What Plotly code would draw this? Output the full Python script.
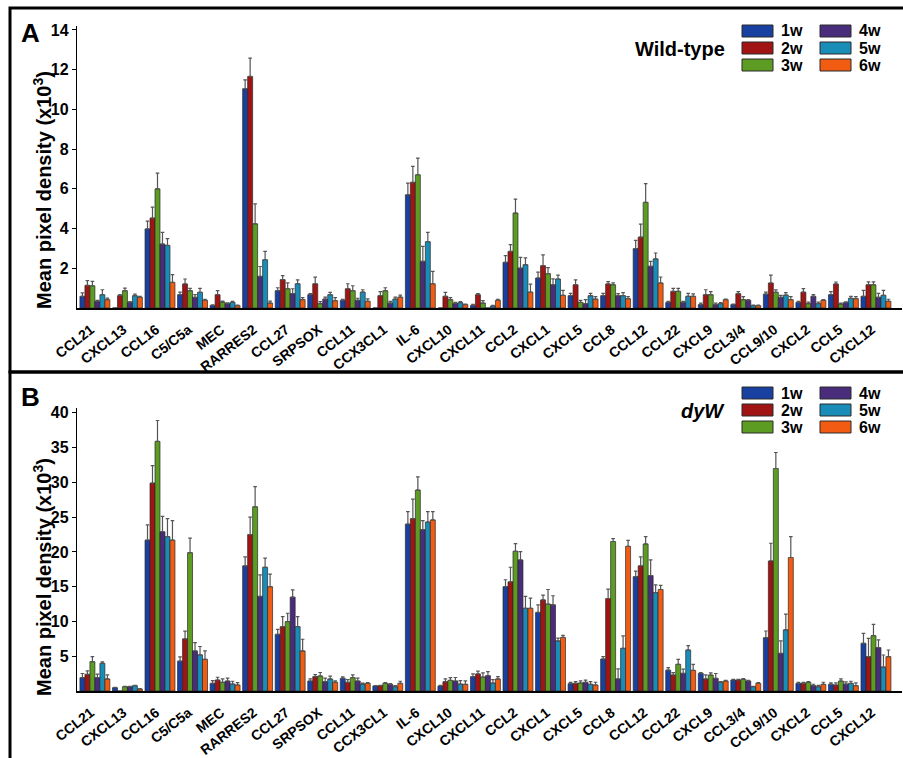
import plotly.graph_objects as go

categories = ["CCL21", "CXCL13", "CCL16", "C5/C5a", "MEC", "RARRES2", "CCL27", "SRPSOX",
              "CCL11", "CCX3CL1", "IL-6", "CXCL10", "CXCL11", "CCL2", "CXCL1", "CXCL5",
              "CCL8", "CCL12", "CCL22", "CXCL9", "CCL3/4", "CCL9/10", "CXCL2", "CCL5", "CXCL12"]
weeks = ["1w", "2w", "3w", "4w", "5w", "6w"]
colors = ["#1840a0", "#a01414", "#5c9c22", "#4a2c7c", "#1a8cb8", "#f25c12"]

# Panel A: Wild-type (mean, x10^3) per week
wt_1w = [0.59, 0, 3.98, 0.67, 0.13, 11.04, 0.87, 0.67, 0.39, 0, 5.70, 0, 0.13, 2.30, 1.51, 0.62, 0.62, 2.99, 0.28, 0.17, 0.17, 0.70, 0.28, 0.67, 0.59]
wt_2w = [1.14, 0.62, 4.53, 1.21, 0.67, 11.66, 1.43, 1.22, 0.97, 0.62, 6.33, 0.59, 0.67, 2.85, 2.13, 1.17, 1.21, 3.57, 0.84, 0.67, 0.72, 1.26, 0.80, 1.21, 1.17]
wt_3w = [1.12, 0.87, 6.00, 0.87, 0.30, 4.24, 0.97, 0.22, 0.87, 0.87, 6.71, 0.42, 0.25, 4.78, 1.73, 0.28, 1.17, 5.32, 0.84, 0.67, 0.42, 0.79, 0.22, 0.20, 1.17]
wt_4w = [0.34, 0.29, 3.22, 0.54, 0.22, 1.59, 0.72, 0.45, 0.39, 0.25, 2.35, 0.23, 0, 2.01, 1.17, 0.22, 0.62, 2.10, 0.28, 0.17, 0.39, 0.54, 0.59, 0.28, 0.54]
wt_5w = [0.67, 0.62, 3.15, 0.79, 0.28, 2.43, 1.22, 0.67, 0.80, 0.45, 3.34, 0.27, 0.10, 2.18, 1.46, 0.62, 0.62, 2.47, 0.59, 0.22, 0.12, 0.65, 0.22, 0.49, 0.64]
wt_6w = [0.42, 0.54, 1.29, 0.39, 0.12, 0.25, 0.42, 0.37, 0.34, 0.55, 1.22, 0.17, 0.39, 0.80, 0.64, 0.45, 0.47, 1.26, 0.59, 0.42, 0.12, 0.42, 0.39, 0.47, 0.34]
wt_err_1w = [0.17, 0, 0.39, 0.13, 0.03, 0.45, 0.15, 0.05, 0.05, 0, 0.59, 0, 0.05, 0.34, 0.30, 0.12, 0.12, 0.42, 0.05, 0.08, 0.03, 0.10, 0.05, 0.15, 0.30]
wt_err_2w = [0.24, 0.05, 0.55, 0.25, 0.20, 0.92, 0.20, 0.33, 0.25, 0.20, 0.80, 0.20, 0.05, 0.34, 0.55, 0.25, 0.12, 0.65, 0.15, 0.25, 0.10, 0.40, 0.18, 0.10, 0.15]
wt_err_3w = [0.22, 0.13, 0.79, 0.12, 0.05, 1.00, 0.30, 0.10, 0.25, 0.15, 0.84, 0.10, 0.12, 0.70, 0.30, 0.10, 0.10, 0.94, 0.15, 0.15, 0.15, 0.12, 0.08, 0.05, 0.15]
wt_err_4w = [0.05, 0.03, 0.59, 0.13, 0.04, 0.50, 0.25, 0.10, 0.10, 0.08, 0.75, 0.05, 0, 0.54, 0.30, 0.20, 0.10, 0.25, 0.05, 0.08, 0.03, 0.10, 0.08, 0.03, 0.20]
wt_err_5w = [0.25, 0.08, 0.34, 0.20, 0.05, 0.42, 0.20, 0.12, 0.12, 0.10, 0.47, 0.05, 0.03, 0.34, 0.20, 0.12, 0.15, 0.30, 0.15, 0.05, 0.03, 0.12, 0.08, 0.10, 0.25]
wt_err_6w = [0.08, 0.05, 0.39, 0.05, 0.03, 0.10, 0.10, 0.15, 0.12, 0.10, 0.62, 0.03, 0.05, 0.40, 0.25, 0.12, 0.10, 0.30, 0.12, 0.03, 0.03, 0.15, 0.03, 0.10, 0.10]

# Panel B: dyW (mean, x10^3) per week
dy_1w = [1.92, 0.48, 21.7, 4.30, 1.10, 18.0, 8.15, 1.44, 1.82, 0.72, 24.0, 0.72, 2.06, 15.0, 11.3, 1.05, 4.60, 16.45, 3.00, 2.54, 1.58, 7.67, 1.10, 0.96, 6.86]
dy_2w = [2.40, 0, 29.9, 7.50, 1.58, 22.5, 9.26, 2.06, 1.25, 0.77, 24.8, 1.34, 2.45, 15.7, 13.1, 1.10, 13.3, 18.0, 2.30, 1.73, 1.58, 18.7, 1.10, 0.86, 4.94]
dy_3w = [4.22, 0.62, 35.9, 19.9, 1.25, 26.5, 9.98, 2.16, 1.92, 1.10, 28.9, 1.53, 2.00, 20.1, 12.5, 1.15, 21.5, 21.15, 3.84, 2.30, 1.68, 32.0, 1.25, 1.44, 7.96]
dy_4w = [1.92, 0.62, 22.9, 5.76, 1.44, 13.6, 13.5, 1.34, 1.44, 0.96, 23.2, 1.44, 2.20, 18.85, 12.4, 1.25, 1.73, 16.6, 2.54, 1.82, 1.44, 5.40, 0.77, 1.00, 6.24]
dy_5w = [3.98, 0.77, 22.2, 5.20, 1.00, 17.8, 9.26, 1.73, 1.00, 0.62, 24.3, 1.00, 1.15, 11.9, 7.20, 0.96, 6.14, 14.15, 5.90, 1.25, 0.62, 8.80, 0.62, 1.10, 3.45]
dy_6w = [1.73, 0.29, 21.7, 4.56, 0.86, 15.0, 5.76, 1.25, 1.10, 1.10, 24.6, 0.96, 1.73, 11.9, 7.70, 0.86, 20.8, 14.6, 2.97, 1.44, 1.10, 19.2, 0.96, 0.77, 4.94]
dy_err_1w = [0.60, 0.05, 2.20, 0.60, 0.40, 1.30, 0.70, 0.30, 0.20, 0.05, 1.80, 0.10, 0.40, 1.00, 1.10, 0.20, 0.35, 0.80, 0.35, 0.10, 0.10, 0.96, 0.15, 0.20, 1.44]
dy_err_2w = [0.50, 0, 2.50, 1.10, 0.40, 2.50, 1.44, 0.30, 0.40, 0.05, 2.80, 0.40, 0.40, 2.10, 0.70, 0.25, 1.35, 1.30, 0.35, 0.60, 0.10, 2.55, 0.15, 0.30, 2.64]
dy_err_3w = [0.72, 0.05, 3.00, 2.10, 0.50, 2.90, 1.20, 0.50, 0.40, 0.10, 1.90, 0.40, 0.60, 1.10, 2.10, 0.30, 0.40, 1.05, 0.70, 0.30, 0.10, 2.30, 0.10, 0.30, 1.63]
dy_err_4w = [0.50, 0.05, 2.20, 1.20, 0.40, 3.10, 1.05, 0.50, 0.40, 0.10, 1.30, 0.50, 0.60, 1.20, 1.30, 0.30, 1.44, 2.25, 0.60, 0.70, 0.10, 1.80, 0.20, 0.30, 1.10]
dy_err_5w = [0.20, 0.05, 2.60, 1.20, 0.40, 1.30, 1.44, 0.40, 0.15, 0.15, 1.50, 0.50, 0.50, 1.70, 0.40, 0.40, 1.80, 1.10, 0.62, 0.10, 0.05, 2.25, 0.20, 0.30, 1.73]
dy_err_6w = [0.60, 0.05, 2.80, 1.20, 0.35, 1.80, 1.68, 0.20, 0.10, 0.30, 1.20, 0.50, 0.35, 1.45, 0.30, 0.40, 0.86, 0.60, 0.86, 0.10, 0.10, 3.00, 0.30, 0.40, 0.96]

wt_tickvals = [2, 4, 6, 8, 10, 12, 14]
dy_tickvals = [5, 10, 15, 20, 25, 30, 35, 40]

wt_vals = [wt_1w, wt_2w, wt_3w, wt_4w, wt_5w, wt_6w]
wt_errs = [wt_err_1w, wt_err_2w, wt_err_3w, wt_err_4w, wt_err_5w, wt_err_6w]
dy_vals = [dy_1w, dy_2w, dy_3w, dy_4w, dy_5w, dy_6w]
dy_errs = [dy_err_1w, dy_err_2w, dy_err_3w, dy_err_4w, dy_err_5w, dy_err_6w]

W, H = 903, 758
FONT = "Arial, 'Liberation Sans', Helvetica, sans-serif"


def px(x):
    return x / W


def py(y):
    return 1 - y / H


fig = go.Figure()

for panel, (vals, errs, xa, ya) in enumerate([(wt_vals, wt_errs, "x", "y"),
                                              (dy_vals, dy_errs, "x2", "y2")]):
    for w, c, v, e in zip(weeks, colors, vals, errs):
        fig.add_trace(go.Bar(
            x=categories, y=v, name=w, xaxis=xa, yaxis=ya,
            marker=dict(color=c, line=dict(color="#2a2a2a", width=0.7)),
            error_y=dict(type="data", array=e, symmetric=False,
                         arrayminus=[0] * len(e), color="#555555",
                         thickness=1.2, width=1.8),
            showlegend=False, legendgroup=w,
        ))

xcommon = dict(
    range=[-0.55, 24.8], showline=True, linecolor="black", linewidth=2.2,
    ticks="", tickangle=-38, showgrid=False, zeroline=False, automargin=False,
    ticklabelshift=-4, ticklabelstandoff=6,
    tickfont=dict(family=FONT, size=14, color="black", weight="bold"),
    domain=[px(77), px(902)],
)
ycommon = dict(
    showline=True, linecolor="black", linewidth=1.3, ticks="outside",
    ticklen=4, tickwidth=1.3, tickcolor="black", showgrid=False, zeroline=False,
    automargin=False,
    tickfont=dict(family=FONT, size=16, color="black", weight="bold"),
)

fig.update_layout(
    width=W, height=H,
    margin=dict(l=0, r=0, t=0, b=0, autoexpand=False),
    paper_bgcolor="white", plot_bgcolor="white",
    barmode="group", bargap=0.08, bargroupgap=0,
    xaxis=dict(xcommon, anchor="y"),
    yaxis=dict(ycommon, anchor="x", range=[0, 14.2], tickvals=wt_tickvals,
               domain=[py(308), py(26)]),
    xaxis2=dict(xcommon, anchor="y2"),
    yaxis2=dict(ycommon, anchor="x2", range=[0, 40.7], tickvals=dy_tickvals,
                domain=[py(691), py(408)]),
    font=dict(family=FONT, color="black"),
)

shapes = []
annotations = []

# panel frames
shapes.append(dict(type="rect", xref="paper", yref="paper",
                   x0=px(10), x1=px(910), y0=py(372), y1=py(8),
                   line=dict(color="black", width=3)))
shapes.append(dict(type="rect", xref="paper", yref="paper",
                   x0=px(10), x1=px(910), y0=py(770), y1=py(372),
                   line=dict(color="black", width=3)))

# panel letters and y titles
for letter, ly, tcy in [("A", 33, 190), ("B", 397, 577)]:
    annotations.append(dict(text="<b>%s</b>" % letter, x=px(30), y=py(ly),
                            xref="paper", yref="paper", showarrow=False,
                            xanchor="center", yanchor="middle",
                            font=dict(family=FONT, size=26, color="black")))
    annotations.append(dict(text="<b>Mean pixel density (x10<sup>3</sup>)</b>",
                            x=px(42), y=py(tcy), xref="paper", yref="paper",
                            showarrow=False, textangle=-90,
                            xanchor="center", yanchor="middle",
                            font=dict(family=FONT, size=20, color="black")))

# legends
for title, row0 in [("<b>Wild-type</b>", 31), ("<b><i>dyW</i></b>", 393)]:
    annotations.append(dict(text=title, x=px(727), y=py(row0 + 18),
                            xref="paper", yref="paper", showarrow=False,
                            xanchor="right", yanchor="middle",
                            font=dict(family=FONT, size=20, color="black")))
    for i, (w, c) in enumerate(zip(weeks, colors)):
        col, row = divmod(i, 3)
        sx = 742 + col * 78
        cy = row0 + row * 17
        shapes.append(dict(type="rect", xref="paper", yref="paper",
                           x0=px(sx), x1=px(sx + 31), y0=py(cy + 6), y1=py(cy - 6),
                           fillcolor=c, line=dict(color="#2a2a2a", width=1)))
        annotations.append(dict(text="<b>%s</b>" % w, x=px(sx + 37), y=py(cy),
                                xref="paper", yref="paper", showarrow=False,
                                xanchor="left", yanchor="middle",
                                font=dict(family=FONT, size=16, color="black")))

fig.update_layout(shapes=shapes, annotations=annotations)

fig.write_html(
    "out.html",
    config={"displayModeBar": False},
    post_script="document.documentElement.style.margin='0';"
                "document.body.style.margin='0';"
                "document.body.style.overflow='hidden';",
)
